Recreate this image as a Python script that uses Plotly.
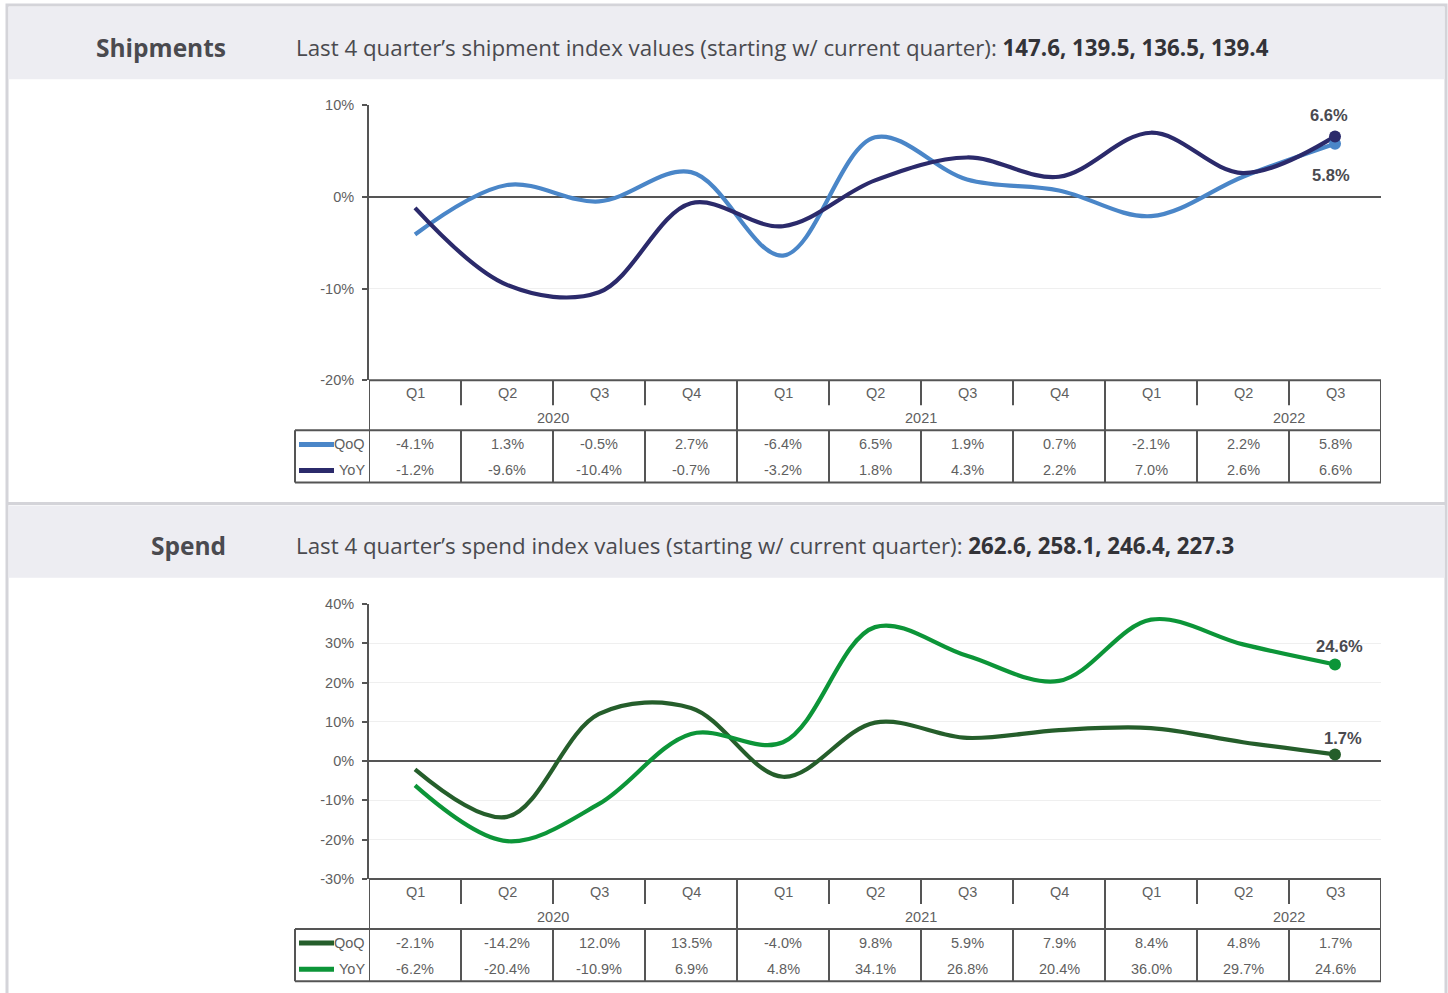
import plotly.graph_objects as go

# ---------------- data ----------------
quarters = ["Q1", "Q2", "Q3", "Q4", "Q1", "Q2", "Q3", "Q4", "Q1", "Q2", "Q3"]
years = ["2020", "2021", "2022"]
year_centers = [1.5, 5.5, 9.5]
year_bounds = [3.5, 7.5]

ship_qoq = [-4.1, 1.3, -0.5, 2.7, -6.4, 6.5, 1.9, 0.7, -2.1, 2.2, 5.8]
ship_yoy = [-1.2, -9.6, -10.4, -0.7, -3.2, 1.8, 4.3, 2.2, 7.0, 2.6, 6.6]
spend_qoq = [-2.1, -14.2, 12.0, 13.5, -4.0, 9.8, 5.9, 7.9, 8.4, 4.8, 1.7]
spend_yoy = [-6.2, -20.4, -10.9, 6.9, 4.8, 34.1, 26.8, 20.4, 36.0, 29.7, 24.6]

ship_ticks = [10, 0, -10, -20]
ship_ticktext = ["10%", "0%", "-10%", "-20%"]
spend_ticks = [40, 30, 20, 10, 0, -10, -20, -30]
spend_ticktext = ["40%", "30%", "20%", "10%", "0%", "-10%", "-20%", "-30%"]

ship_title = "Shipments"
ship_sub = "Last 4 quarter\u2019s shipment index values (starting w/ current quarter): "
ship_idx = "147.6, 139.5, 136.5, 139.4"
spend_title = "Spend"
spend_sub = "Last 4 quarter\u2019s spend index values (starting w/ current quarter): "
spend_idx = "262.6, 258.1, 246.4, 227.3"

series_names = ["QoQ", "YoY"]

# ---------------- styling ----------------
W, H = 1448, 993
C_SHIP_QOQ = "#4a86c8"
C_SHIP_YOY = "#2b2a6b"
C_SPEND_QOQ = "#255e2b"
C_SPEND_YOY = "#0c9538"
TXT = "#4a4a4f"
DARK = "#333338"
TBL = "#555555"
TTXT = "#5f5f5f"
TFONT = "Liberation Sans, Arial, sans-serif"
HFONT = "Open Sans, Noto Sans, sans-serif"

# vertical calibration of the page photograph
VS, VOFF = 0.9805, 9.1


def px(x):
    return x / W


def py(y):
    yf = (y - VOFF) / VS
    return 1 - yf / H


fig = go.Figure()
shapes = []
ann = []


def add_text(text, x, y, xref="paper", yref="paper", xanchor="center", yanchor="middle", font=None, **kw):
    d = dict(xref=xref, yref=yref, x=x, y=y, text=text, showarrow=False, xanchor=xanchor,
             yanchor=yanchor, font=font)
    d.update(kw)
    ann.append(d)


# Frame and header bands
shapes.append(dict(type="rect", xref="paper", yref="paper", x0=px(7), x1=px(1446), y0=py(1010), y1=py(6),
                   line=dict(color="#d4d4d9", width=3), fillcolor="rgba(0,0,0,0)", layer="below"))
for (y0, y1) in [(8, 80), (505, 577)]:
    shapes.append(dict(type="rect", xref="paper", yref="paper", x0=px(8.5), x1=px(1444.5), y0=py(y1), y1=py(y0),
                       line=dict(width=0), fillcolor="#ededf2", layer="below"))
shapes.append(dict(type="line", xref="paper", yref="paper", x0=px(7), x1=px(1446), y0=py(503), y1=py(503),
                   line=dict(color="#d4d4d9", width=3)))

# Header texts
for title, sub, idx, yc in [(ship_title, ship_sub, ship_idx, 48), (spend_title, spend_sub, spend_idx, 545)]:
    add_text("<b>%s</b>" % title, px(228), py(yc), xanchor="right",
             font=dict(family=HFONT, size=24.5, color=TXT))
    add_text("%s<b><span style='color:%s'>%s</span></b>" % (sub, DARK, idx), px(294), py(yc), xanchor="left",
             font=dict(family=HFONT, size=22.3, color=TXT))

xs = list(range(len(quarters)))

panels = [
    dict(xa="x", ya="y", top=106, bottom=380, rng=[-20, 10], ticks=ship_ticks, ticktext=ship_ticktext,
         series=[ship_qoq, ship_yoy], colors=[C_SHIP_QOQ, C_SHIP_YOY],
         lbl_dy=[+31, -21], lbl_dx=[-4, -6]),
    dict(xa="x2", ya="y2", top=603, bottom=877, rng=[-30, 40], ticks=spend_ticks, ticktext=spend_ticktext,
         series=[spend_qoq, spend_yoy], colors=[C_SPEND_QOQ, C_SPEND_YOY],
         lbl_dy=[-16, -18], lbl_dx=[8, 4]),
]

for p in panels:
    for vals, col, name in zip(p["series"], p["colors"], series_names):
        fig.add_trace(go.Scatter(x=xs, y=vals, mode="lines", name=name, xaxis=p["xa"], yaxis=p["ya"],
                                 line=dict(color=col, width=4.2, shape="spline", smoothing=1.0),
                                 showlegend=False, hoverinfo="skip"))
    for vals, col, dy, dx in zip(p["series"], p["colors"], p["lbl_dy"], p["lbl_dx"]):
        fig.add_trace(go.Scatter(x=[xs[-1]], y=[vals[-1]], mode="markers", xaxis=p["xa"], yaxis=p["ya"],
                                 marker=dict(color=col, size=12), showlegend=False, hoverinfo="skip"))
        add_text("<b>%.1f%%</b>" % vals[-1], xs[-1], vals[-1], xref=p["xa"], yref=p["ya"],
                 xshift=dx, yshift=-dy, font=dict(family=TFONT, size=16.5, color=TXT))

    # table
    b = p["bottom"]
    q_y, yr_y, r1, r2 = b + 13, b + 38, b + 64, b + 90
    tl = b + 50  # top of data table
    te = b + 102  # end of data table
    xr = p["xa"]
    lw = 2
    shapes.append(dict(type="line", xref=xr, yref="paper", x0=-0.5, x1=10.5, y0=py(b), y1=py(b),
                       line=dict(color=TBL, width=lw)))
    for i in range(len(quarters) - 1):
        bx = i + 0.5
        y_end = tl if bx in year_bounds else b + 25
        shapes.append(dict(type="line", xref=xr, yref="paper", x0=bx, x1=bx, y0=py(b), y1=py(y_end),
                           line=dict(color=TBL, width=lw)))
        shapes.append(dict(type="line", xref=xr, yref="paper", x0=bx, x1=bx, y0=py(tl), y1=py(te),
                           line=dict(color=TBL, width=lw)))
    for bx in [-0.5, 10.5]:
        shapes.append(dict(type="line", xref=xr, yref="paper", x0=bx, x1=bx, y0=py(b), y1=py(te),
                           line=dict(color=TBL, width=lw)))
    for yy in [tl, te]:
        shapes.append(dict(type="line", xref="paper", yref="paper", x0=px(295), x1=px(1381), y0=py(yy), y1=py(yy),
                           line=dict(color=TBL, width=lw)))
    shapes.append(dict(type="line", xref="paper", yref="paper", x0=px(295), x1=px(295), y0=py(tl), y1=py(te),
                       line=dict(color=TBL, width=lw)))
    for i, q in enumerate(quarters):
        add_text(q, i, py(q_y), xref=xr, font=dict(family=TFONT, size=14.5, color=TTXT))
    for yc, yl in zip(year_centers, years):
        add_text(yl, yc, py(yr_y), xref=xr, font=dict(family=TFONT, size=14.5, color=TTXT))
    for vals, col, name, ry in zip(p["series"], p["colors"], series_names, [r1, r2]):
        shapes.append(dict(type="line", xref="paper", yref="paper", x0=px(299), x1=px(334), y0=py(ry), y1=py(ry),
                           line=dict(color=col, width=5)))
        add_text(name, px(367), py(ry), xanchor="right", font=dict(family=TFONT, size=14.5, color=TTXT))
        for i, v in enumerate(vals):
            add_text("%.1f%%" % v, i, py(ry), xref=xr, font=dict(family=TFONT, size=14.5, color=TTXT))


def yaxis_cfg(p, anchor):
    return dict(domain=[py(p["bottom"]), py(p["top"])], range=p["rng"], tickvals=p["ticks"],
                ticktext=p["ticktext"], ticks="outside", ticklen=5, tickcolor=TBL, tickwidth=1.5,
                ticklabelstandoff=5,
                showline=True, linecolor=TBL, linewidth=2, showgrid=True, gridcolor="#efefef", gridwidth=1,
                zeroline=True, zerolinecolor=TBL, zerolinewidth=2, anchor=anchor,
                tickfont=dict(family=TFONT, size=14.5, color=TTXT), fixedrange=True)


def xaxis_cfg(anchor):
    return dict(domain=[px(369), px(1381)], range=[-0.5, 10.5], showticklabels=False, showgrid=False,
                zeroline=False, showline=False, ticks="", anchor=anchor, fixedrange=True)


fig.update_layout(
    width=W, height=H, autosize=False,
    margin=dict(l=0, r=0, t=0, b=0),
    paper_bgcolor="white", plot_bgcolor="white",
    xaxis=xaxis_cfg("y"), yaxis=yaxis_cfg(panels[0], "x"),
    xaxis2=xaxis_cfg("y2"), yaxis2=yaxis_cfg(panels[1], "x2"),
    shapes=shapes, annotations=ann, showlegend=False,
)

fig.write_html("out.html", config={"displayModeBar": False},
               post_script="document.body.style.margin='0';document.body.style.overflow='hidden';")
